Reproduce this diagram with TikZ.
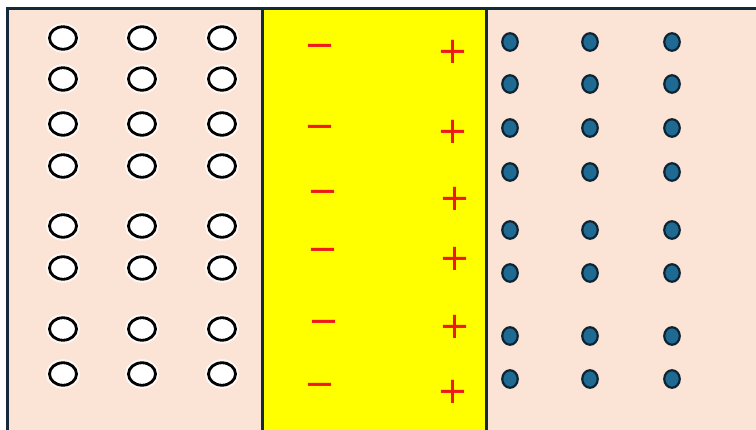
\documentclass[tikz,border=0pt]{standalone}
\usepackage{fontspec}
\usetikzlibrary{shapes.geometric}
\newfontfamily\signfont{DejaVu Sans}
\definecolor{peach}{HTML}{FBE3D6}
\definecolor{brightyellow}{HTML}{FFFF00}
\definecolor{framecol}{HTML}{14293A}
\definecolor{dotfill}{HTML}{1F6A92}
\definecolor{dotline}{HTML}{0E2433}
\definecolor{signred}{HTML}{EE1A1A}
\begin{document}
\begin{tikzpicture}[x=1pt,y=-1pt,
  hole/.style={ellipse, draw=black, fill=white, line width=2.8pt,
    minimum width=27pt, minimum height=22.5pt, inner sep=0pt,
    preaction={draw=white, line width=7pt, opacity=0.75}},
  carrier/.style={ellipse, draw=dotline, fill=dotfill, line width=2.2pt,
    minimum width=15.5pt, minimum height=17.5pt, inner sep=0pt},
  sign/.style={text=signred, inner sep=0pt, anchor=base,
    font=\signfont\fontsize{37}{37}\selectfont},
  border/.style={draw=framecol, line width=3pt}]
\useasboundingbox (0,0) rectangle (756,430);
\fill[white] (0,0) rectangle (756,430);
\fill[peach] (7,9) rectangle (262,430);
\fill[brightyellow] (262,9) rectangle (486,430);
\fill[peach] (486,9) rectangle (756,430);
\draw[border] (7,431) -- (7,9) -- (757,9);
\draw[border] (262,9) -- (262,431);
\draw[border] (486,9) -- (486,431);
% holes
\foreach \y [count=\i] in {38,79,124,166,226,268,329,374}{
  \foreach \x [count=\j] in {63,142,222}{
    \node[hole] (h-\i-\j) at (\x,\y) {};
  }
}
% carriers
\foreach \y [count=\i] in {42,84,128,172,230,273,336,379}{
  \foreach \x [count=\j] in {510,590,672}{
    \node[carrier] (d-\i-\j) at (\x,\y) {};
  }
}
% signs
\foreach \x/\y [count=\i] in {320/44,320/125,323/190,323/248,324/320,320/383}{
  \node[sign] (m-\i) at (\x,\y+13.3) {−};
}
\foreach \x/\y [count=\i] in {453/50,453/130,455/197,455/257,455/325,453/390}{
  \node[sign] (p-\i) at (\x,\y+13.3) {+};
}
\end{tikzpicture}
\end{document}
